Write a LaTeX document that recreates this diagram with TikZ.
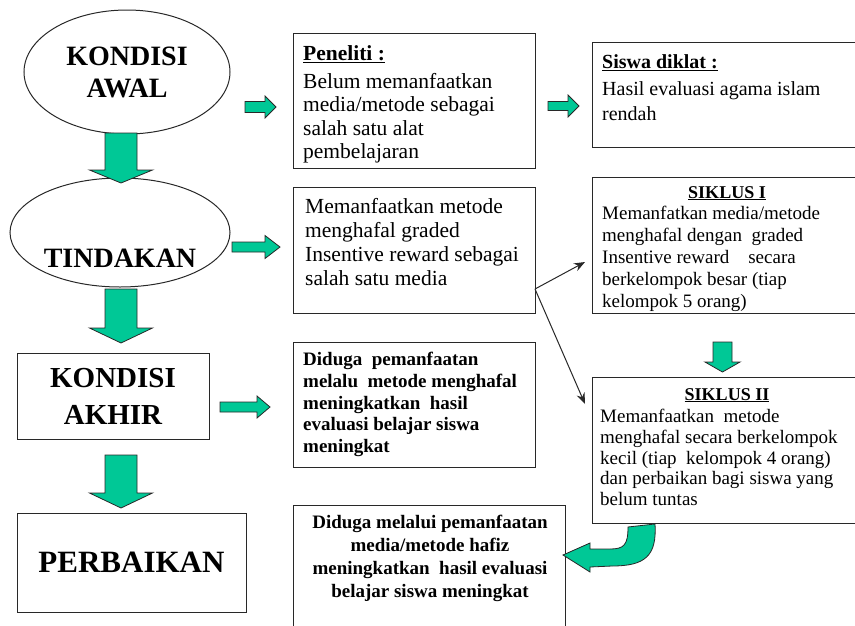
\documentclass[tikz,border=0pt]{standalone}
\usepackage{fontspec}
\setmainfont{Liberation Serif}
\usetikzlibrary{shapes.geometric,arrows.meta}
\definecolor{arrgreen}{RGB}{0,200,150}
\definecolor{edgec}{RGB}{40,40,40}
\newcommand\dnarr[6]{\draw[blockarr] (#1-#5,#2) -- (#1+#5,#2) -- (#1+#5,#3) -- (#1+#6,#3) -- (#1,#4) -- (#1-#6,#3) -- (#1-#5,#3) -- cycle;}
\newcommand\rtarr[6]{\draw[blockarr] (#1,#2-#5) -- (#3,#2-#5) -- (#3,#2-#6) -- (#4,#2) -- (#3,#2+#6) -- (#3,#2+#5) -- (#1,#2+#5) -- cycle;}
\begin{document}
\begin{tikzpicture}[x=1pt,y=-1pt,
  box/.style={draw=edgec,line width=1pt,rectangle,inner sep=0pt},
  oval/.style={draw=edgec,line width=1pt,ellipse,inner sep=0pt},
  blockarr/.style={fill=arrgreen,draw=edgec,line width=0.8pt,line join=miter},
  thinarr/.style={draw=edgec,line width=1pt,-{Stealth[length=11pt,width=8.5pt]}},
  txt/.style={inner sep=0pt,align=left,anchor=north west},
]
\useasboundingbox (0,0) rectangle (855,625);
\clip (0,0) rectangle (855,625);

% left column
\node[oval,minimum width=206pt,minimum height=124pt,align=center,
      font={\fontsize{28}{32}\selectfont\bfseries}] (awal) at (127,72) {KONDISI\\AWAL};
\node[oval,minimum width=220pt,minimum height=109pt] (tind) at (120,232.5) {};
\node[anchor=base,inner sep=0pt,font={\fontsize{28}{28}\selectfont\bfseries}] (tindtxt) at (120,267) {TINDAKAN};
\node[box,minimum width=192pt,minimum height=86pt,align=center,
      font={\fontsize{29}{37}\selectfont\bfseries}] (akhir) at (113,396) {KONDISI\\AKHIR};
\node[box,minimum width=229pt,minimum height=99pt,
      font={\fontsize{31}{31}\selectfont\bfseries}] (perb) at (131.5,562.5) {PERBAIKAN};

% middle column boxes
\node[box,minimum width=242pt,minimum height=135pt,anchor=north west] (pen) at (293,33) {};
\node[txt,font={\fontsize{21.5}{23.5}\selectfont}] (pentxt) at (303,45.5)
  {\textbf{\underline{Peneliti :}}\\[4pt]Belum memanfaatkan\\media/metode sebagai\\salah satu alat\\pembelajaran};

\node[box,minimum width=242pt,minimum height=126pt,anchor=north west] (tbox) at (293,187) {};
\node[txt,font={\fontsize{21.5}{24}\selectfont}] (tboxtxt) at (305,198.5)
  {Memanfaatkan metode\\menghafal graded\\Insentive reward sebagai\\salah satu media};

\node[box,minimum width=242pt,minimum height=125pt,anchor=north west] (dug1) at (293,342) {};
\node[txt,font={\fontsize{19}{21.7}\selectfont\bfseries}] (dug1txt) at (303,352.2)
  {Diduga\ \ pemanfaatan\\melalu\ \ metode menghafal\\meningkatkan\ \ hasil\\evaluasi belajar siswa\\meningkat};

\node[box,minimum width=272pt,minimum height=130pt,anchor=north west] (dug2) at (293,505) {};
\node[inner sep=0pt,align=center,anchor=north,font={\fontsize{19}{23}\selectfont\bfseries}] (dug2txt) at (430,515)
  {Diduga melalui pemanfaatan\\media/metode hafiz\\meningkatkan\ \ hasil evaluasi\\belajar siswa meningkat};

% right column boxes
\node[box,minimum width=275pt,minimum height=105pt,anchor=north west] (sis) at (592,42) {};
\node[txt,font={\fontsize{20}{25}\selectfont}] (sistxt) at (602,54.5)
  {\textbf{\underline{Siswa diklat :}}\\[2pt]Hasil evaluasi agama islam\\rendah};

\node[box,minimum width=275pt,minimum height=136pt,anchor=north west] (sik1) at (592,177) {};
\node[anchor=base,inner sep=0pt,font={\fontsize{18}{18}\selectfont\bfseries}] (sik1t) at (727,198) {\underline{SIKLUS I}};
\begin{scope}
\clip (593,178) rectangle (860,311);
\node[txt,font={\fontsize{19}{22.2}\selectfont}] (sik1txt) at (602,205.5)
  {Memanfatkan media/metode\\menghafal dengan\ \ graded\\Insentive reward\ \ \ \ secara\\berkelompok besar (tiap\\kelompok 5 orang)};
\end{scope}

\node[box,minimum width=275pt,minimum height=146pt,anchor=north west] (sik2) at (592,377) {};
\node[anchor=base,inner sep=0pt,font={\fontsize{18}{18}\selectfont\bfseries}] (sik2t) at (727,400) {\underline{SIKLUS II}};
\node[txt,font={\fontsize{19}{20.8}\selectfont}] (sik2txt) at (600,409)
  {Memanfaatkan\ \ metode\\menghafal secara berkelompok\\kecil (tiap\ \ kelompok 4 orang)\\dan perbaikan bagi siswa yang\\belum tuntas};

% block arrows
\dnarr{121}{133}{170}{183}{16}{31.5}
\dnarr{121}{289}{328}{343}{16}{31.5}
\dnarr{121}{455}{493}{508}{16}{31.5}
\dnarr{722.5}{342}{362}{372}{9.5}{17.5}
\rtarr{245}{107}{265}{276}{5.5}{11}
\rtarr{232}{247}{265}{280}{5}{11.5}
\rtarr{220}{407}{257}{270}{5}{11}
\rtarr{548}{106}{568}{579}{4.5}{11}

% bent arrow
\draw[blockarr] (628,527) -- (655,524) .. controls (657,556) and (645,566) .. (612,566)
  -- (590,567) -- (590,572) -- (563,555) -- (590,543) -- (590,549) -- (610,549)
  .. controls (624,549) and (628,545) .. (628,527) -- cycle;

% thin arrows
\coordinate (split) at (535,289);
\coordinate (s1in) at (585,262);
\coordinate (s2in) at (585,404);
\draw[thinarr] (split) -- (s1in);
\draw[thinarr] (split) -- (s2in);
\end{tikzpicture}
\end{document}
